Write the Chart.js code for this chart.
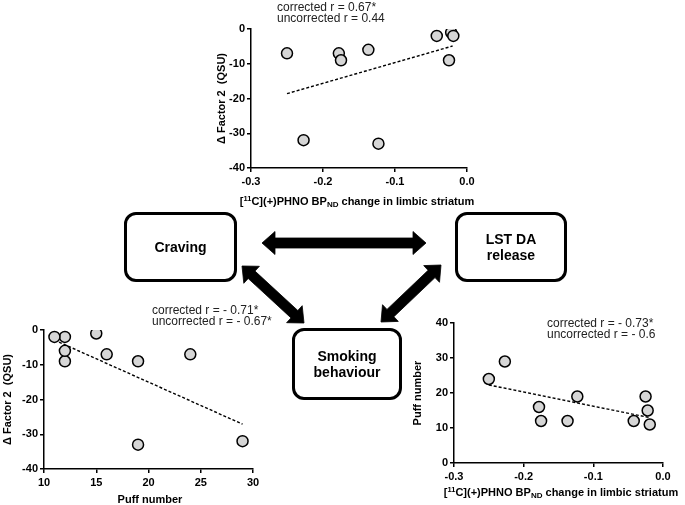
<!DOCTYPE html>
<html>
<head>
<meta charset="utf-8">
<script src="https://cdn.jsdelivr.net/npm/chart.js@4.4.1/dist/chart.umd.min.js"></script>
<style>
  body { margin: 0; background: #fff; }
  #page { position: relative; width: 685px; height: 505px; overflow: hidden; font-family: "Liberation Sans", Arial, sans-serif; color: #000; }
  .layer { position: absolute; left: 0; top: 0; }
  .box { position: absolute; box-sizing: border-box; border: 3px solid #000; border-radius: 12px; display: flex; align-items: center; justify-content: center; text-align: center; font-weight: bold; font-size: 14px; line-height: 16px; }
  .note { position: absolute; font-size: 12px; line-height: 11px; white-space: nowrap; color: #222; }
  .xtitle { position: absolute; font-weight: bold; font-size: 11px; line-height: 12px; white-space: nowrap; transform: translate(-50%, -50%); }
  .xtitle sup { font-size: 7.5px; vertical-align: 4px; }
  .xtitle sub { font-size: 8px; vertical-align: -2px; }
</style>
</head>
<body>
<div id="page">
  <canvas id="topChart" class="layer" width="685" height="505"></canvas>
  <canvas id="leftChart" class="layer" width="685" height="505"></canvas>
  <canvas id="rightChart" class="layer" width="685" height="505"></canvas>
  <svg id="arrows" class="layer" width="685" height="505"></svg>

  <div class="box" style="left:124px; top:212px; width:113px; height:70px;">Craving</div>
  <div class="box" style="left:455px; top:212px; width:112px; height:70px;">LST DA<br>release</div>
  <div class="box" style="left:292px; top:328px; width:110px; height:72px;">Smoking<br>behaviour</div>

  <div class="note" style="left:277px; top:2px;">corrected r = 0.67*<br>uncorrected r = 0.44</div>
  <div class="note" style="left:152px; top:305px;">corrected r = - 0.71*<br>uncorrected r = - 0.67*</div>
  <div class="note" style="left:547px; top:318px;">corrected r = - 0.73*<br>uncorrected r = - 0.6</div>

  <div class="xtitle" style="left:357px; top:202px;">[<sup>11</sup>C](+)PHNO BP<sub>ND</sub> change in limbic striatum</div>
  <div class="xtitle" style="left:150px; top:499px;">Puff number</div>
  <div class="xtitle" style="left:561px; top:493px;">[<sup>11</sup>C](+)PHNO BP<sub>ND</sub> change in limbic striatum</div>
</div>

<script>
// one value per subject, same order in every array
const bpChange = [-0.25, -0.227, -0.178, -0.175, -0.137, -0.123, -0.042, -0.025, -0.022, -0.019];
const cravingChange = [-7, -32, -7, -9, -6, -33, -2, -9, -1, -2];
const puffNumber = [24, 29, 16, 12, 12, 19, 12, 19, 15, 11];

// dashed fit lines, ends
const fitTopX = [-0.25, -0.02];
const fitTopY = [-18.6, -4.9];
const fitLeftX = [11, 29];
const fitLeftY = [-2.9, -27.1];
const fitRightX = [-0.25, -0.02];
const fitRightY = [22.3, 13.0];

// tick values and labels
const bpTicks = [-0.3, -0.2, -0.1, 0.0];
const bpTickLabels = ['-0.3', '-0.2', '-0.1', '0.0'];
const puffTicks = [10, 15, 20, 25, 30];
const puffTickLabels = ['10', '15', '20', '25', '30'];
const cravingTicks = [-40, -30, -20, -10, 0];
const cravingTickLabels = ['-40', '-30', '-20', '-10', '0'];
const puffAxisTicks = [0, 10, 20, 30, 40];
const puffAxisTickLabels = ['0', '10', '20', '30', '40'];

const W = 685, H = 505;
const FONT = '"Liberation Sans", Arial, sans-serif';
const tickFont = { family: FONT, size: 11, weight: 'bold' };
const titleFont = { family: FONT, size: 11, weight: 'bold', lineHeight: 1.2 };

function axisStyle() {
  return {
    grid: { display: true, drawOnChartArea: false, drawTicks: true, tickLength: 4, color: '#000', tickColor: '#000', lineWidth: 1.5 },
    border: { display: true, color: '#000', width: 1.5 }
  };
}

function makePlot(id, o) {
  const xH = 30;
  const yW = o.area.left - (o.yTitleX - 6.6);
  return new Chart(document.getElementById(id), {
    type: 'scatter',
    data: {
      datasets: [
        {
          data: o.x.map((v, i) => ({ x: v, y: o.y[i] })),
          pointRadius: 5.5,
          pointHoverRadius: 5.5,
          backgroundColor: '#d6d6d6',
          borderColor: '#000',
          borderWidth: 1.5
        },
        {
          data: o.fitX.map((v, i) => ({ x: v, y: o.fitY[i] })),
          showLine: true,
          pointRadius: 0,
          borderColor: '#000',
          borderWidth: 1.4,
          borderDash: [3, 2],
          fill: false
        }
      ]
    },
    options: {
      responsive: false,
      animation: false,
      events: [],
      layout: {
        padding: { left: o.area.left - yW, top: o.area.top, right: W - o.area.right, bottom: H - o.area.bottom - xH }
      },
      plugins: { legend: { display: false }, tooltip: { enabled: false } },
      scales: {
        x: {
          type: 'linear',
          min: o.xTicks[0],
          max: o.xTicks[o.xTicks.length - 1],
          afterBuildTicks: s => { s.ticks = o.xTicks.map(v => ({ value: v })); },
          afterFit: s => { s.height = xH; },
          ticks: { callback: (v, i) => o.xLabels[i], font: tickFont, color: '#000', padding: 3, maxRotation: 0, autoSkip: false },
          ...axisStyle()
        },
        y: {
          type: 'linear',
          min: o.yTicks[0],
          max: o.yTicks[o.yTicks.length - 1],
          afterBuildTicks: s => { s.ticks = o.yTicks.map(v => ({ value: v })); },
          afterFit: s => { s.width = yW; },
          ticks: { callback: (v, i) => o.yLabels[i], font: tickFont, color: '#000', padding: 2, autoSkip: false },
          title: { display: true, text: o.yTitle, font: titleFont, color: '#000', padding: 0 },
          ...axisStyle()
        }
      }
    }
  });
}

makePlot('topChart', {
  x: bpChange, y: cravingChange, fitX: fitTopX, fitY: fitTopY,
  xTicks: bpTicks, xLabels: bpTickLabels, yTicks: cravingTicks, yLabels: cravingTickLabels,
  yTitle: '\u0394 Factor 2  (QSU)', yTitleX: 222,
  area: { left: 251, top: 29, right: 467, bottom: 168 }
});

makePlot('leftChart', {
  x: puffNumber, y: cravingChange, fitX: fitLeftX, fitY: fitLeftY,
  xTicks: puffTicks, xLabels: puffTickLabels, yTicks: cravingTicks, yLabels: cravingTickLabels,
  yTitle: '\u0394 Factor 2  (QSU)', yTitleX: 8,
  area: { left: 44, top: 330, right: 253, bottom: 469 }
});

makePlot('rightChart', {
  x: bpChange, y: puffNumber, fitX: fitRightX, fitY: fitRightY,
  xTicks: bpTicks, xLabels: bpTickLabels, yTicks: puffAxisTicks, yLabels: puffAxisTickLabels,
  yTitle: 'Puff number', yTitleX: 418,
  area: { left: 454, top: 323, right: 663, bottom: 463 }
});

// double-headed block arrows of the diagram
const arrowEnds = [[262, 243, 426, 243], [242, 266, 304, 323], [441, 265, 381, 322]];

function arrowPolygon(x1, y1, x2, y2) {
  const len = Math.hypot(x2 - x1, y2 - y1);
  const ux = (x2 - x1) / len, uy = (y2 - y1) / len;
  const nx = -uy, ny = ux;
  const s = 5, h = 11.5, L = 13;
  const p = (bx, by, along, side) => [bx + ux * along + nx * side, by + uy * along + ny * side];
  const pts = [
    [x1, y1],
    p(x1, y1, L, h), p(x1, y1, L, s),
    p(x2, y2, -L, s), p(x2, y2, -L, h),
    [x2, y2],
    p(x2, y2, -L, -h), p(x2, y2, -L, -s),
    p(x1, y1, L, -s), p(x1, y1, L, -h)
  ];
  return pts.map(q => q[0].toFixed(1) + ',' + q[1].toFixed(1)).join(' ');
}

const svg = document.getElementById('arrows');
svg.innerHTML = arrowEnds.map(a =>
  `<polygon points="${arrowPolygon(...a)}" fill="#000" stroke="#000" stroke-width="0.8" stroke-linejoin="miter"/>`
).join('');
</script>
</body>
</html>
